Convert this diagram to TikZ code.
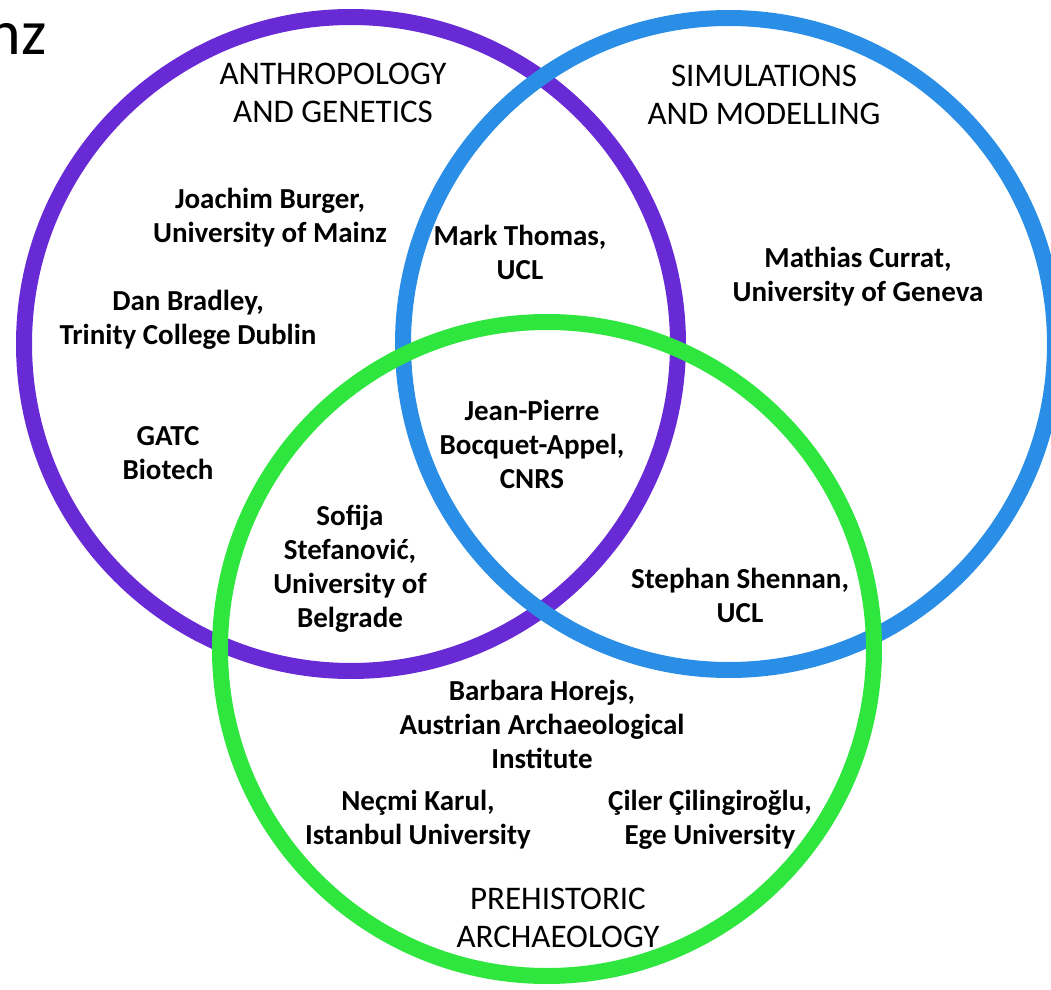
\documentclass[tikz,border=0pt]{standalone}
\usepackage{fontspec}
\setmainfont{Carlito}
\definecolor{anthro}{RGB}{104,42,212}
\definecolor{simul}{RGB}{42,142,230}
\definecolor{prehist}{RGB}{46,230,62}

\begin{document}
\begin{tikzpicture}[x=0.5pt,y=-0.5pt,
		ring/.style={line width=8pt},
		head/.style={align=center,inner sep=0,font=\fontsize{16.5}{19}\selectfont},
		who/.style={align=center,inner sep=0,font=\bfseries\fontsize{14.5}{17}\selectfont}]
		\useasboundingbox[fill=white] (0,0) rectangle (1051,990);

		\node [anchor=base east,inner sep=0,font=\fontsize{32}{38}\selectfont] (cut) at (47,55) {nz};

		% circles
		\coordinate (anthro-c) at (351,344);
		\coordinate (simul-c) at (729,344);
		\coordinate (prehist-c) at (547,649);
		\draw [ring,anthro] (anthro-c) circle [radius=163.5pt];
		\draw [ring,simul] (simul-c) circle [radius=163pt];
		\draw [ring,prehist] (prehist-c) circle [radius=163.5pt];

		% field titles
		\node [head] (anthro-t) at (333,93) {ANTHROPOLOGY\\AND GENETICS};
		\node [head] (simul-t) at (764,95) {SIMULATIONS\\AND MODELLING};
		\node [head] (prehist-t) at (558,918) {PREHISTORIC\\ARCHAEOLOGY};

		% partners
		\node [who] (burger) at (270,218) {Joachim Burger,\\University of Mainz};
		\node [who] (bradley) at (188,320) {Dan Bradley,\\Trinity College Dublin};
		\node [who] (gatc) at (168,453) {GATC\\Biotech};
		\node [who] (thomas) at (520,252) {Mark Thomas,\\UCL};
		\node [who] (currat) at (858,277) {Mathias Currat,\\University of Geneva};
		\node [who] (bocquet) at (532,444) {Jean-Pierre\\Bocquet-Appel,\\CNRS};
		\node [who] (stefanovic) at (350,569) {Sofija\\Stefanović,\\University of\\Belgrade};
		\node [who] (shennan) at (740,595) {Stephan Shennan,\\UCL};
		\node [who] (horejs) at (542,724) {Barbara Horejs,\\Austrian Archaeological\\Institute};
		\node [who] (karul) at (418,820) {Neçmi Karul,\\Istanbul University};
		\node [who] (cilingiroglu) at (710,820) {Çiler Çilingiroğlu,\\Ege University};
	\end{tikzpicture}
\end{document}
